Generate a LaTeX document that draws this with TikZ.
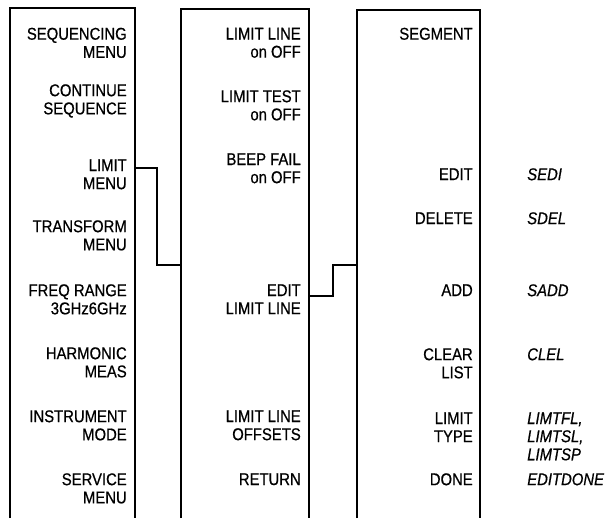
\documentclass[tikz,border=0pt]{standalone}
\usepackage{fontspec}
\setmainfont{Liberation Sans}[FakeStretch=0.87,FakeBold=0.6]
\begin{document}
\begin{tikzpicture}[x=0.75pt,y=-0.75pt,
  frame/.style={line width=1.8pt},
  link/.style={line width=1.6pt},
  key/.style={font=\fontsize{12.8}{13.6}\selectfont, align=right, anchor=north east, inner sep=0pt},
  cmd/.style={font=\fontsize{12.8}{13.6}\selectfont\itshape, align=left, anchor=north west, inner sep=0pt}]
\useasboundingbox (0,0) rectangle (609,518);
% boxes (open at bottom)
\draw[frame] (10,518) -- (10,8) -- (135,8) -- (135,518);
\draw[frame] (181,518) -- (181,9) -- (309,9) -- (309,518);
\draw[frame] (357,518) -- (357,10) -- (480,10) -- (480,518);
% connector anchor points
\coordinate (c1a) at (135,168);
\coordinate (c1b) at (181,265);
\coordinate (c2a) at (309,296);
\coordinate (c2b) at (357,265);
\draw[link] (c1a) -- (157,168) -- (157,265) -- (c1b);
\draw[link] (c2a) -- (333,296) -- (333,265) -- (c2b);
% column 1
\node[key] (a1) at (127,27.5) {SEQUENCING\\MENU};
\node[key] (a2) at (127,84) {CONTINUE\\SEQUENCE};
\node[key] (a3) at (127,159) {LIMIT\\MENU};
\node[key] (a4) at (127,220) {TRANSFORM\\MENU};
\node[key] (a5) at (127,284) {FREQ RANGE\\3GHz6GHz};
\node[key] (a6) at (127,347) {HARMONIC\\MEAS};
\node[key] (a7) at (127,410) {INSTRUMENT\\MODE};
\node[key] (a8) at (127,473) {SERVICE\\MENU};
% column 2
\node[key] (b1) at (301,27.5) {LIMIT LINE\\on OFF};
\node[key] (b2) at (301,90) {LIMIT TEST\\on OFF};
\node[key] (b3) at (301,153) {BEEP FAIL\\on OFF};
\node[key] (b4) at (301,284) {EDIT\\LIMIT LINE};
\node[key] (b5) at (301,410) {LIMIT LINE\\OFFSETS};
\node[key] (b6) at (301,473) {RETURN};
% column 3
\node[key] (s1) at (473,27.5) {SEGMENT};
\node[key] (s2) at (473,168) {EDIT};
\node[key] (s3) at (473,212) {DELETE};
\node[key] (s4) at (473,284) {ADD};
\node[key] (s5) at (473,348) {CLEAR\\LIST};
\node[key] (s6) at (473,412) {LIMIT\\TYPE};
\node[key] (s7) at (473,473) {DONE};
% commands
\node[cmd] (m2) at (527,168) {SEDI};
\node[cmd] (m3) at (527,212) {SDEL};
\node[cmd] (m4) at (527,284) {SADD};
\node[cmd] (m5) at (527,348) {CLEL};
\node[cmd] (m6) at (527,412) {LIMTFL,\\LIMTSL,\\LIMTSP};
\node[cmd] (m7) at (527,473) {EDITDONE};
\end{tikzpicture}
\end{document}
